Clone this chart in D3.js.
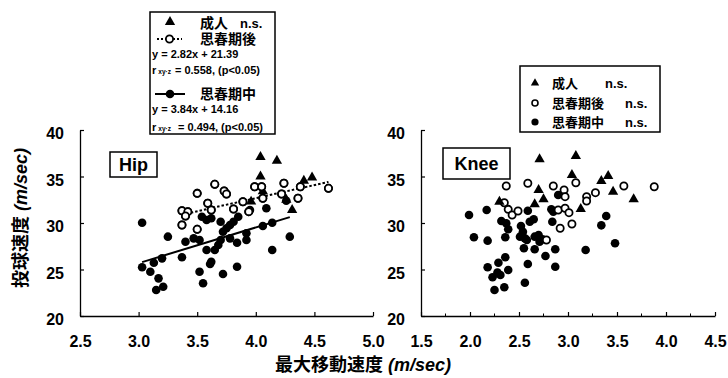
<!DOCTYPE html>
<html>
<head>
<meta charset="utf-8">
<script src="https://cdn.jsdelivr.net/npm/d3@7"></script>
<style>
  html, body { margin: 0; padding: 0; background: #fff; }
  svg { display: block; }
</style>
</head>
<body>
<svg id="chart" width="728" height="378"></svg>
<script>
// ---- data ----
const yTicks = [20, 25, 30, 35, 40];
const hipTicks = [2.5, 3.0, 3.5, 4.0, 4.5, 5.0];
const kneeTicks = [1.5, 2.0, 2.5, 3.0, 3.5, 4.0, 4.5];

// Hip: [最大移動速度, 投球速度]
const hipAdult = [
  [4.04, 37.1], [4.18, 36.7], [4.04, 35.0], [4.48, 34.9], [4.41, 34.55],
  [4.26, 32.5], [4.31, 31.4], [3.96, 32.3], [4.06, 33.4]
];
const hipLate = [
  [3.65, 34.16], [3.50, 33.19], [3.73, 33.44], [3.75, 33.12], [3.59, 32.12],
  [3.37, 31.32], [3.42, 31.22], [3.40, 30.75], [3.62, 31.40], [3.37, 29.78],
  [3.50, 29.32], [3.81, 31.51], [3.89, 32.29], [3.94, 31.22], [3.99, 33.90],
  [4.05, 33.90], [4.06, 32.66], [4.24, 34.27], [4.22, 33.12], [4.38, 33.90],
  [4.36, 32.66], [4.62, 33.73]
];
const hipMid = [
  [3.03, 30.03], [3.25, 28.53], [3.40, 27.99], [3.47, 28.35], [3.52, 28.17],
  [3.37, 26.31], [3.20, 26.20], [3.13, 25.73], [3.03, 25.24], [3.10, 24.76],
  [3.17, 24.05], [3.21, 23.15], [3.15, 22.80], [3.52, 24.76], [3.61, 25.59],
  [3.55, 23.52], [3.72, 24.52], [3.84, 25.30], [3.58, 27.10], [3.65, 27.10],
  [3.68, 27.63], [3.70, 28.17], [3.72, 29.06], [3.75, 29.43], [3.78, 29.78],
  [3.81, 30.14], [3.70, 30.14], [3.85, 30.68], [3.78, 28.35], [3.84, 27.88],
  [3.92, 28.17], [3.92, 28.89], [4.06, 29.68], [4.14, 30.03], [4.09, 31.58],
  [4.29, 28.53], [4.14, 27.10], [3.54, 30.68], [3.58, 30.32], [3.62, 30.51],
  [4.26, 32.40], [3.95, 31.40], [3.62, 25.84]
];

// Knee
const kneeAdult = [
  [2.71, 36.85], [3.08, 37.20], [3.04, 35.16], [3.34, 34.52], [3.41, 35.05],
  [2.70, 33.55], [2.75, 32.55], [3.46, 33.37], [3.67, 32.55], [3.13, 31.51],
  [2.66, 32.01], [2.30, 32.29]
];
const kneeLate = [
  [2.37, 33.98], [2.59, 34.27], [2.85, 33.98], [2.96, 33.55], [2.97, 32.83],
  [3.08, 34.33], [3.19, 32.83], [3.19, 32.37], [3.28, 33.26], [3.57, 33.98],
  [3.88, 33.90], [2.35, 32.18], [2.39, 31.47], [2.43, 30.86], [2.49, 31.29],
  [2.90, 31.40], [2.97, 31.58], [3.01, 31.11], [2.92, 29.43], [3.04, 29.89],
  [2.78, 28.17]
];
const kneeMid = [
  [1.99, 30.86], [2.17, 31.40], [2.04, 28.46], [2.18, 28.10], [2.32, 30.22],
  [2.37, 29.97], [2.39, 29.32], [2.36, 28.46], [2.59, 31.32], [2.65, 30.40],
  [2.61, 30.14], [2.52, 29.68], [2.54, 29.06], [2.51, 28.53], [2.56, 28.35],
  [2.58, 28.17], [2.66, 28.53], [2.70, 28.71], [2.74, 28.25], [2.71, 27.99],
  [2.55, 27.28], [2.66, 27.17], [2.77, 26.45], [2.87, 27.17], [2.83, 31.47],
  [2.85, 31.22], [2.90, 33.01], [2.84, 30.14], [2.36, 26.31], [2.29, 25.73],
  [2.18, 25.24], [2.39, 24.95], [2.28, 24.66], [2.31, 24.41], [2.23, 24.16],
  [2.25, 22.80], [2.35, 23.09], [2.59, 25.59], [2.56, 23.58], [2.87, 25.30],
  [3.18, 27.10], [3.39, 30.75], [3.34, 29.75], [3.48, 27.82]
];

// regression lines (Hip): slope, intercept
const lateFit = [2.82, 21.39];
const midFit = [3.84, 14.16];

// ---- drawing ----
const FONT = "'Liberation Sans', Arial, 'Noto Sans CJK JP', sans-serif";
const svg = d3.select('#chart').style('font-family', FONT);

const y = d3.scaleLinear().domain([20, 40]).range([316, 130]);
const tri = d3.symbol(d3.symbolTriangle).size(46)();

function drawPanel(x, ticks, mid, late, adult, name, box) {
  const g = svg.append('g');

  // axes
  const ax = g.append('g')
    .attr('transform', 'translate(0,316)')
    .call(d3.axisBottom(x).tickValues(ticks).tickFormat(d3.format('.1f'))
      .tickSizeInner(-4).tickSizeOuter(0).tickPadding(20));
  const ay = g.append('g')
    .attr('transform', `translate(${x.range()[0]},0)`)
    .call(d3.axisLeft(y).tickValues(yTicks)
      .tickSizeInner(-4).tickSizeOuter(0).tickPadding(16));
  [ax, ay].forEach((a) => {
    a.select('.domain').attr('stroke', '#000').attr('stroke-width', 1.3);
    a.selectAll('.tick line').attr('stroke', '#000').attr('stroke-width', 1.2);
    a.selectAll('text').attr('fill', '#000').attr('font-size', 16)
      .attr('font-weight', 'bold').attr('font-family', FONT);
  });
  ay.selectAll('text').attr('dy', '0.55em');

  // points
  g.selectAll('.mid').data(mid).enter().append('circle')
    .attr('cx', (d) => x(d[0])).attr('cy', (d) => y(d[1]))
    .attr('r', 4.3).attr('fill', '#000');
  g.selectAll('.late').data(late).enter().append('circle')
    .attr('cx', (d) => x(d[0])).attr('cy', (d) => y(d[1]))
    .attr('r', 3.6).attr('fill', '#fff').attr('stroke', '#000').attr('stroke-width', 1.8);
  g.selectAll('.adult').data(adult).enter().append('path')
    .attr('d', tri)
    .attr('transform', (d) => `translate(${x(d[0])},${y(d[1])})`)
    .attr('fill', '#000');

  // panel label
  g.append('rect')
    .attr('x', box[0]).attr('y', box[1]).attr('width', box[2]).attr('height', box[3])
    .attr('fill', '#fff').attr('stroke', '#000').attr('stroke-width', 1.5);
  g.append('text')
    .attr('x', box[0] + box[2] / 2).attr('y', box[1] + box[3] / 2 + 6.5)
    .attr('text-anchor', 'middle').attr('font-size', 18).attr('font-weight', 'bold')
    .text(name);
  return g;
}

// Hip panel
const xHip = d3.scaleLinear().domain([2.5, 5.0]).range([80, 373]);
const gHip = drawPanel(xHip, hipTicks, hipMid, hipLate, hipAdult, 'Hip', [110, 152, 47, 25]);

function fitLine(g, x, pts, fit, dash) {
  const ext = d3.extent(pts, (d) => d[0]);
  g.append('line')
    .attr('x1', x(ext[0])).attr('y1', y(fit[0] * ext[0] + fit[1]))
    .attr('x2', x(ext[1])).attr('y2', y(fit[0] * ext[1] + fit[1]))
    .attr('stroke', '#000').attr('stroke-width', 2)
    .attr('stroke-dasharray', dash);
}
fitLine(gHip, xHip, hipLate, lateFit, '2.5,2');
fitLine(gHip, xHip, hipMid, midFit, null);
// redraw hollow markers over the dotted line
gHip.selectAll('.late2').data(hipLate).enter().append('circle')
  .attr('cx', (d) => xHip(d[0])).attr('cy', (d) => y(d[1]))
  .attr('r', 3.6).attr('fill', '#fff').attr('stroke', '#000').attr('stroke-width', 1.8);

// Knee panel
const xKnee = d3.scaleLinear().domain([1.5, 4.5]).range([421, 715]);
const gKnee = drawPanel(xKnee, kneeTicks, kneeMid, kneeLate, kneeAdult, 'Knee', [443, 148, 67, 31]);
// minor ticks on knee x-axis
gKnee.append('g').selectAll('line')
  .data(d3.range(1.75, 4.5, 0.5)).enter().append('line')
  .attr('x1', (d) => xKnee(d)).attr('x2', (d) => xKnee(d))
  .attr('y1', 316).attr('y2', 313.5).attr('stroke', '#000').attr('stroke-width', 1);

// ---- legend (Hip) ----
const lg = svg.append('g');
lg.append('rect').attr('x', 150).attr('y', 12).attr('width', 125).attr('height', 122)
  .attr('fill', '#fff').attr('stroke', '#000').attr('stroke-width', 1.5);
lg.append('path').attr('d', tri).attr('transform', 'translate(170,22)');
lg.append('line').attr('x1', 157).attr('x2', 182).attr('y1', 39).attr('y2', 39)
  .attr('stroke', '#000').attr('stroke-width', 2).attr('stroke-dasharray', '2,2');
lg.append('circle').attr('cx', 169.5).attr('cy', 39).attr('r', 3.6)
  .attr('fill', '#fff').attr('stroke', '#000').attr('stroke-width', 1.8);
lg.append('line').attr('x1', 155).attr('x2', 185).attr('y1', 94).attr('y2', 94)
  .attr('stroke', '#000').attr('stroke-width', 2);
lg.append('circle').attr('cx', 170).attr('cy', 94).attr('r', 4.3).attr('fill', '#000');

const lgText = [
  { x: 200, y: 27.5, t: '成人', s: 14 },
  { x: 240, y: 27.5, t: 'n.s.', s: 13 },
  { x: 200, y: 44, t: '思春期後', s: 14 },
  { x: 200, y: 99, t: '思春期中', s: 14 },
  { x: 152, y: 58, t: 'y = 2.82x + 21.39', s: 11 },
  { x: 152, y: 113, t: 'y = 3.84x + 14.16', s: 11 }
];
lgText.forEach((d) => {
  lg.append('text').attr('x', d.x).attr('y', d.y).attr('font-size', d.s)
    .attr('font-weight', 'bold').text(d.t);
});
[[73.5, '= 0.558, (p<0.05)'], [131, ' = 0.494, (p<0.05)']].forEach(([yy, s]) => {
  const t = lg.append('text').attr('x', 152).attr('y', yy)
    .attr('font-size', 11).attr('font-weight', 'bold');
  t.append('tspan').text('r');
  t.append('tspan').attr('font-size', 6.5).attr('dx', 2).text('xy·z');
  t.append('tspan').attr('dx', 4).text(s);
});

// ---- legend (Knee) ----
const rg = svg.append('g');
rg.append('rect').attr('x', 520).attr('y', 66).attr('width', 140).attr('height', 66)
  .attr('fill', '#fff').attr('stroke', '#000').attr('stroke-width', 1.5);
rg.append('path').attr('d', d3.symbol(d3.symbolTriangle).size(30)())
  .attr('transform', 'translate(535,83)');
rg.append('circle').attr('cx', 535).attr('cy', 103).attr('r', 3)
  .attr('fill', '#fff').attr('stroke', '#000').attr('stroke-width', 1.6);
rg.append('circle').attr('cx', 535).attr('cy', 122).attr('r', 3.6).attr('fill', '#000');
[
  { x: 552, y: 88, t: '成人' }, { x: 605, y: 88, t: 'n.s.' },
  { x: 552, y: 108, t: '思春期後' }, { x: 625, y: 108, t: 'n.s.' },
  { x: 552, y: 127, t: '思春期中' }, { x: 625, y: 127, t: 'n.s.' }
].forEach((d) => {
  rg.append('text').attr('x', d.x).attr('y', d.y).attr('font-size', 13)
    .attr('font-weight', 'bold').text(d.t);
});

// ---- axis titles ----
const xt = svg.append('text').attr('x', 363).attr('y', 371)
  .attr('text-anchor', 'middle').attr('font-size', 18).attr('font-weight', 'bold');
xt.append('tspan').text('最大移動速度 ');
xt.append('tspan').attr('font-style', 'italic').text('(m/sec)');

const yt = svg.append('text')
  .attr('transform', 'translate(27,218) rotate(-90)')
  .attr('text-anchor', 'middle').attr('font-size', 18).attr('font-weight', 'bold');
yt.append('tspan').text('投球速度 ');
yt.append('tspan').attr('font-style', 'italic').text('(m/sec)');
</script>
</body>
</html>
